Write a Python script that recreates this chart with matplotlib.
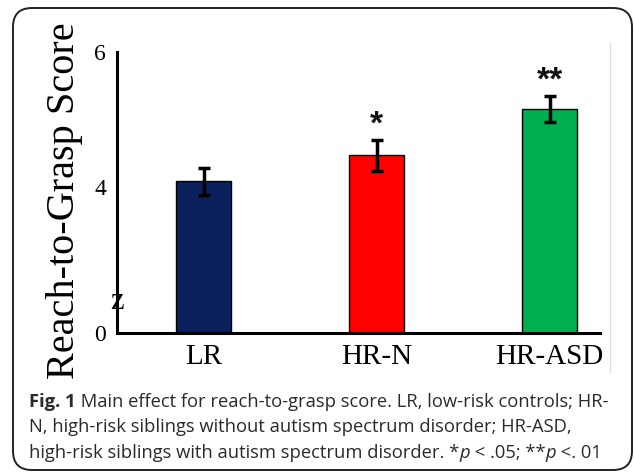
import matplotlib
matplotlib.use("Agg")
import matplotlib.pyplot as plt
from matplotlib.patches import FancyBboxPatch
from matplotlib.lines import Line2D

categories = ["LR", "HR-N", "HR-ASD"]
values = [4.09, 4.47, 5.16]
errors = [0.20, 0.23, 0.19]
colors = ["#0A1F5C", "#FF0000", "#00B050"]
significance = ["", "*", "**"]
ytick_vals = [1.84, 4, 6]
ytick_labels = ["0", "4", "6"]
ylabel = "Reach-to-Grasp Score"

W, H = 634, 472
fig = plt.figure(figsize=(W / 100, H / 100), dpi=100)

def fx(px):
    return px / W

def fy(py):
    return 1 - py / H

# rounded border
box = FancyBboxPatch((fx(13), fy(470)), fx(632) - fx(13), fy(8) - fy(470),
                     boxstyle="round,pad=0,rounding_size=0.03",
                     transform=fig.transFigure, fill=False,
                     edgecolor="#222222", linewidth=1.4, mutation_aspect=W / H)
fig.patches.append(box)

# light gray line on right of chart image
fig.add_artist(Line2D([fx(610), fx(610)], [fy(43), fy(372)], color="#DDDDDD",
                      lw=1.0, transform=fig.transFigure))

ax = fig.add_axes([fx(117), fy(333), fx(600) - fx(117), fy(52) - fy(333)])
x = list(range(len(categories)))
ax.bar(x, values, width=0.32, color=colors, edgecolor="black", linewidth=1.0,
       bottom=0, zorder=2)
ax.errorbar(x, values, yerr=errors, fmt="none", ecolor="black", elinewidth=2.5,
            capsize=4, capthick=2.5, zorder=3)
for xi, v, e, s in zip(x, values, errors, significance):
    if s:
        ax.text(xi, v + e + 0.22, s, ha="center", va="center", fontsize=24,
                family="Liberation Sans", fontweight="bold", color="#111111")

ax.set_xlim(-0.5, 2.29)
ax.set_ylim(ytick_vals[0], 6)
for sp in ["top", "right"]:
    ax.spines[sp].set_visible(False)
for sp in ["left", "bottom"]:
    ax.spines[sp].set_linewidth(2.2)
ax.set_yticks(ytick_vals)
ax.set_yticklabels(ytick_labels, family="Liberation Serif", fontsize=17)
ax.set_xticks(x)
ax.set_xticklabels(categories, family="Liberation Serif", fontsize=21)
ax.tick_params(axis="both", length=0)
ax.tick_params(axis="y", pad=8)
ax.tick_params(axis="x", pad=8)

# axis break mark
ax.text(-0.5, 2.3, "z", ha="center", va="center", family="Liberation Serif",
        fontsize=22, transform=ax.transData, clip_on=False)

fig.text(fx(65), fy(201), ylabel, rotation=90, ha="center", va="center",
         family="Liberation Serif", fontsize=29)

# caption
fig.canvas.draw()
renderer = fig.canvas.get_renderer()
cap_font = "Open Sans"
cap_size = 13.2
lines = [
    [("Fig. 1", "bold", "normal"), (" Main effect for reach-to-grasp score. LR, low-risk controls; HR-", "normal", "normal")],
    [("N, high-risk siblings without autism spectrum disorder; HR-ASD,", "normal", "normal")],
    [("high-risk siblings with autism spectrum disorder. *", "normal", "normal"), ("p", "normal", "italic"),
     (" < .05; **", "normal", "normal"), ("p", "normal", "italic"), (" <. 01", "normal", "normal")],
]
baselines = [407, 432.5, 458]
for pieces, by in zip(lines, baselines):
    xpos = 29
    for txt, weight, style in pieces:
        t = fig.text(fx(xpos), fy(by), txt, ha="left", va="baseline",
                     family=cap_font, fontsize=cap_size, fontweight=weight,
                     fontstyle=style, color="#2A2A2A")
        bb = t.get_window_extent(renderer)
        xpos += bb.width

fig.savefig("out.png", dpi=100)
